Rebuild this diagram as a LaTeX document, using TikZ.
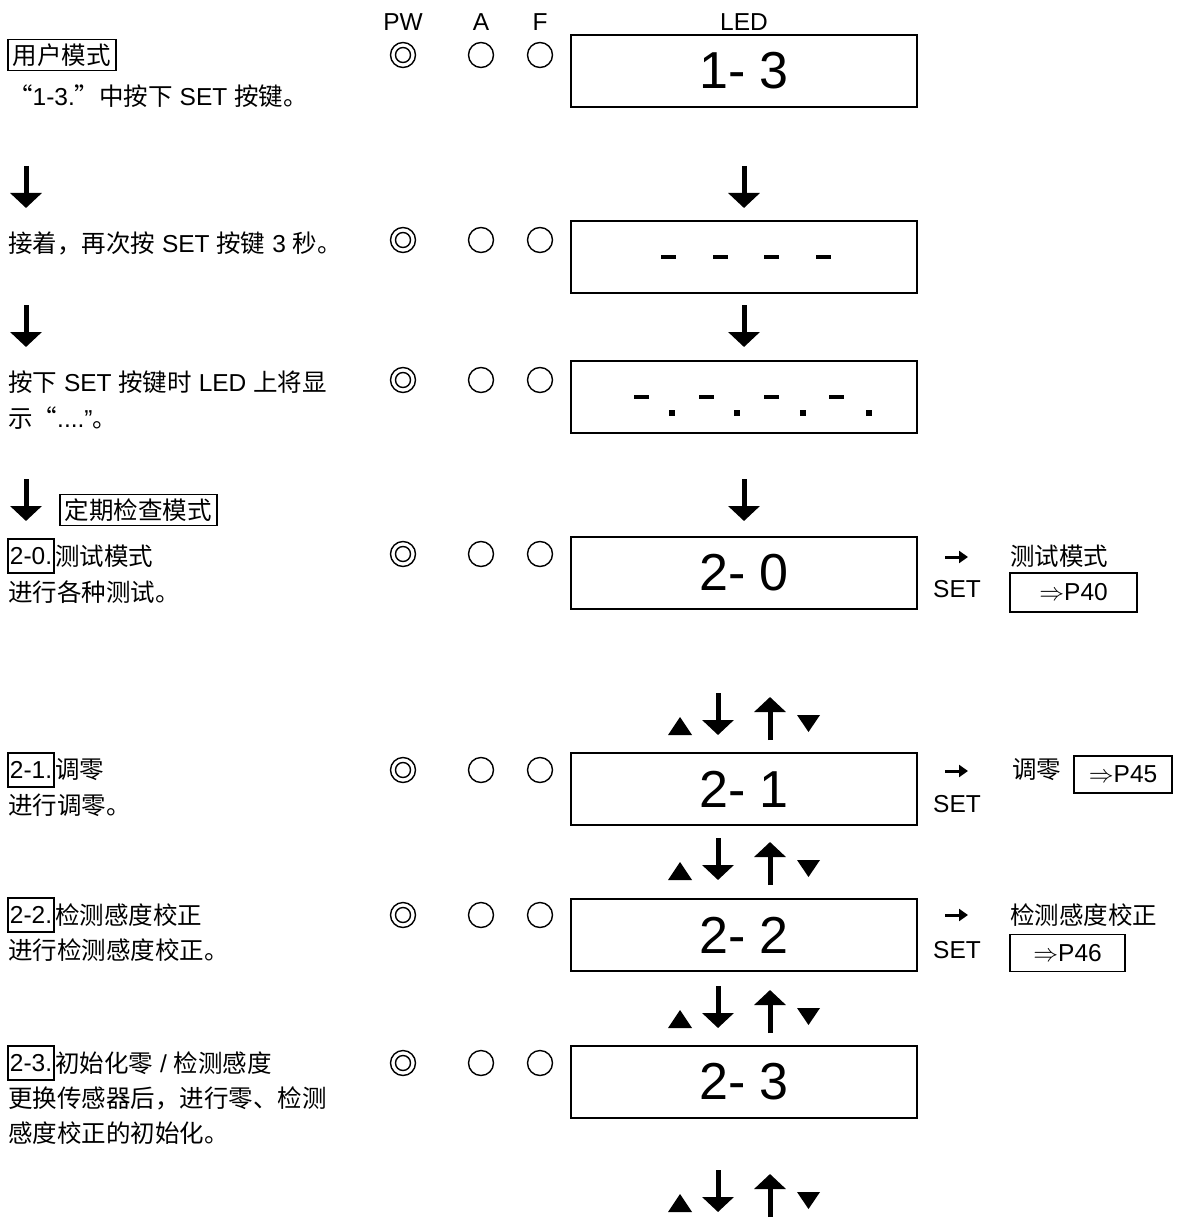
\documentclass[tikz,border=0pt]{standalone}
\usepackage{fontspec}
\setmainfont{Liberation Sans}
\newfontfamily\cjk{Noto Sans CJK SC}
\usetikzlibrary{arrows.meta,positioning}
\newcommand{\lbfont}{\fontsize{24.5}{30}\selectfont}
\tikzset{
  ltext/.style={anchor=west,inner sep=0pt,font=\lbfont},
  plain/.style={inner sep=0pt,font=\lbfont},
  numbox/.style={draw,line width=1.8pt,inner xsep=2pt,inner ysep=0pt,minimum height=34pt,font=\lbfont},
  modebox/.style={draw,line width=1.8pt,inner xsep=5pt,inner ysep=4pt,font=\lbfont\cjk},
  refbox/.style={draw,line width=1.8pt,inner sep=0pt,font=\lbfont},
  ledbox/.style={draw,line width=2.6pt,minimum width=346pt,minimum height=72pt,inner sep=0pt,font=\fontsize{52}{60}\selectfont},
  lamp/.style={circle,draw,line width=1.4pt,minimum size=25pt,inner sep=0pt},
  bigdown/.style={line width=5pt,-{Triangle[width=31pt,length=15pt]}},
  setarr/.style={line width=3pt,-{Triangle[width=12pt,length=9pt]}}
}

\begin{document}
\begin{tikzpicture}[x=1pt,y=-1pt]
\useasboundingbox (0,0) rectangle (1191,1222);

% lamps PW / A / F
\foreach \r/\y in {1/55,2/240,3/380,4/554,5/770,6/915,7/1063} {
  \node[lamp] (pw\r) at (403,\y) {};
  \draw[line width=1.4pt] (pw\r.center) circle (7.5pt);
  \node[lamp] (a\r) at (481,\y) {};
  \node[lamp] (f\r) at (540,\y) {};
}

% LED displays
\node[ledbox] (led1) at (744,71) {1- 3};
\node[ledbox] (led2) at (744,257) {};
\node[ledbox] (led3) at (744,397) {};
\node[ledbox] (led4) at (744,573) {2- 0};
\node[ledbox] (led5) at (744,789) {2- 1};
\node[ledbox] (led6) at (744,935) {2- 2};
\node[ledbox] (led7) at (744,1082) {2- 3};
\foreach \dx in {-76,-24,27,79}
  \fill ([xshift=\dx pt]led2.center) +(-7.5,-2.3) rectangle +(7.5,2.3);
\foreach \dx in {-103,-38,27,92}
  \fill ([xshift=\dx pt]led3.center) +(-7.5,-2.3) rectangle +(7.5,2.3);
\foreach \dx in {-72,-7,59,125}
  \fill ([shift={(\dx,16)}]led3.center) +(-2.6,-2.6) rectangle +(2.6,2.6);

% headers
\node[plain, above=11pt of pw1] (hpw) {PW};
\node[plain, above=11pt of a1] (ha) {A};
\node[plain, above=11pt of f1] (hf) {F};
\node[plain, above=3pt of led1] (hled) {LED};

% left column
\node[modebox, anchor=west] (um) at (7,55) {用户模式};
\node[ltext] (t1) at (8,96) {{\cjk “}1-3.{\cjk ”中按下} SET {\cjk 按键。}};
\node[ltext] (t2) at (8,243) {{\cjk 接着，再次按} SET {\cjk 按键} 3 {\cjk 秒。}};
\node[ltext] (t3) at (8,382) {{\cjk 按下} SET {\cjk 按键时} LED {\cjk 上将显}};
\node[ltext] (t3b) at (8,418) {{\cjk 示“}....”{\cjk 。}};
\node[modebox, anchor=west] (pm) at (59,510) {定期检查模式};
\node[numbox, anchor=west] (b4) at (7,556) {2-0.};
\node[ltext, right=0pt of b4] (t4) {\cjk 测试模式};
\node[ltext] (t4b) at (8,592) {\cjk 进行各种测试。};
\node[numbox, anchor=west] (b5) at (7,770) {2-1.};
\node[ltext, right=0pt of b5] (t5) {\cjk 调零};
\node[ltext] (t5b) at (8,805) {\cjk 进行调零。};
\node[numbox, anchor=west] (b6) at (7,915) {2-2.};
\node[ltext, right=0pt of b6] (t6) {\cjk 检测感度校正};
\node[ltext] (t6b) at (8,950) {\cjk 进行检测感度校正。};
\node[numbox, anchor=west] (b7) at (7,1063) {2-3.};
\node[ltext, right=0pt of b7] (t7) {{\cjk 初始化零} / {\cjk 检测感度}};
\node[ltext] (t7b) at (8,1098) {\cjk 更换传感器后，进行零、检测};
\node[ltext] (t7c) at (8,1133) {\cjk 感度校正的初始化。};

% down arrows
\foreach \ya in {166,305,479} {
  \draw[bigdown] (26,\ya) -- (26,\ya+42);
  \draw[bigdown] (744,\ya) -- (744,\ya+42);
}

% up / down keys
\foreach \y in {693,838,986,1170} {
  \fill (668,\y+42) -- (692,\y+42) -- (680,\y+24) -- cycle;
  \draw[bigdown] (718,\y) -- (718,\y+42);
  \draw[bigdown] (770,\y+47) -- (770,\y+4);
  \fill (797,\y+22) -- (820,\y+22) -- (808.5,\y+39) -- cycle;
}

% SET branches
\draw[setarr] (945,557) -- (968,557);
\node[plain] (s4) at (957,589) {SET};
\node[ltext] (m4) at (1010,556) {\cjk 测试模式};
\node[refbox, minimum width=127pt, minimum height=39pt] (p40) at (1073.5,592.5) {$\Rightarrow$P40};

\draw[setarr] (945,771) -- (968,771);
\node[plain] (s5) at (957,804) {SET};
\node[ltext] (m5) at (1012,770) {\cjk 调零};
\node[refbox, minimum width=98pt, minimum height=37pt] (p45) at (1123,774.5) {$\Rightarrow$P45};

\draw[setarr] (945,915) -- (968,915);
\node[plain] (s6) at (957,950) {SET};
\node[ltext] (m6) at (1010,915) {\cjk 检测感度校正};
\node[refbox, minimum width=115pt, minimum height=37pt] (p46) at (1067.5,953) {$\Rightarrow$P46};
\end{tikzpicture}
\end{document}
